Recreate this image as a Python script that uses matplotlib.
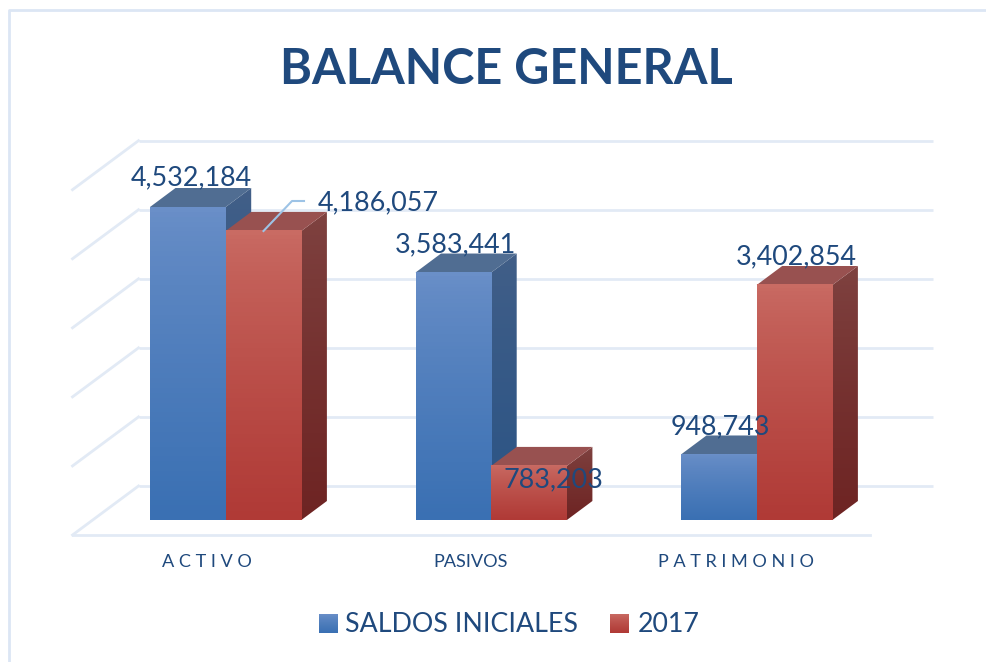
import matplotlib
matplotlib.use("Agg")
import matplotlib.pyplot as plt
import numpy as np
from matplotlib.patches import Polygon

plt.rcParams['font.family'] = ['Lato', 'DejaVu Sans']

categories = ["A C T I V O", "PASIVOS", "P A T R I M O N I O"]
saldos = [4532184, 3583441, 948743]
y2017 = [4186057, 783203, 3402854]
series_names = ["SALDOS INICIALES", "2017"]
saldos_labels = ["4,532,184", "3,583,441", "948,743"]
y2017_labels = ["4,186,057", "783,203", "3,402,854"]
grid_values = [0, 1000000, 2000000, 3000000, 4000000, 5000000]

W, H = 987, 662
TEXT = "#1f497d"
GRID = "#e2eaf5"

# y axis: 1,000,000 = 69.06 px, bars stand on pixel row 520
PX = 69.06 / 1e6
fig = plt.figure(figsize=(W / 100, H / 100), dpi=100)
ax = fig.add_axes([0, 0, 1, 1])
ax.set_xlim(0, W)
ax.set_ylim((520 - H) / PX, 520 / PX)
ax.axis("off")

bar_w = 75.7
dx, dy = 25.5, 19 / PX
lefts = [150, 415.5, 681]
blue = dict(front=("#6a8fc8", "#3a70b3"), side=("#425f88", "#2b5485"), top="#506d92")
red = dict(front=("#c96b63", "#b03a36"), side=("#7f4341", "#6e2423"), top="#985150")


def grad(c1, c2):
    a = np.array(matplotlib.colors.to_rgb(c1))
    b = np.array(matplotlib.colors.to_rgb(c2))
    # the reference reaches its dark end early, so bend the ramp a little
    t = (np.linspace(0, 1, 64) ** 0.8)[:, None, None]
    return a * (1 - t) + b * t


def bar3d(x, v, st, z):
    side = Polygon([(x + bar_w, 0), (x + bar_w + dx, dy), (x + bar_w + dx, v + dy), (x + bar_w, v)], closed=True, transform=ax.transData, fc="none", ec="none")
    ax.add_patch(side)
    im = ax.imshow(grad(*st["side"]), extent=(x + bar_w, x + bar_w + dx, 0, v + dy), aspect="auto", zorder=z, origin="upper")
    im.set_clip_path(side)
    ax.add_patch(Polygon([(x, v), (x + dx, v + dy), (x + bar_w + dx, v + dy), (x + bar_w, v)], closed=True, fc=st["top"], ec="none", zorder=z))
    ax.imshow(grad(*st["front"]), extent=(x, x + bar_w, 0, v), aspect="auto", zorder=z + 0.1, origin="upper")


# back wall and floor
wall_l, wall_r = 138.5, 933
gdx, gdy = 66, 49 / PX
floor = 34 / PX  # back wall zero sits 34 px above the bar base
for g in grid_values:
    y = g + floor
    ax.plot([wall_l, wall_r], [y, y], color=GRID, lw=2, zorder=1, solid_capstyle="butt")
    ax.plot([wall_l, wall_l - gdx], [y, y - gdy], color=GRID, lw=2, zorder=1)
ax.plot([wall_l - gdx, 870], [floor - gdy, floor - gdy], color=GRID, lw=2, zorder=1)

# outer frame, only its top and left edges fall inside the picture
ax.plot([W, 9, 9], [(520 - 10) / PX, (520 - 10) / PX, (520 - H) / PX], color="#dce6f4", lw=2, zorder=0)

for i, x in enumerate(lefts):
    bar3d(x, saldos[i], blue, 3 + i * 2)
    bar3d(x + bar_w, y2017[i], red, 4 + i * 2)

# leader line
ax.plot([263.5, 292, 304], [(520 - 231) / PX, (520 - 201) / PX, (520 - 201) / PX], color="#9dc3e6", lw=1.5, zorder=12)

fs_lab = 19.4
lab_pos_a = [(191, 178), (455, 245), (720, 427)]
lab_pos_b = [(378, 203), (553, 480), (796, 257)]
for (px, py), s in zip(lab_pos_a, saldos_labels):
    ax.text(px, (520 - py) / PX, s, color=TEXT, fontsize=fs_lab, ha="center", va="center", zorder=20)
for (px, py), s in zip(lab_pos_b, y2017_labels):
    ax.text(px, (520 - py) / PX, s, color=TEXT, fontsize=fs_lab, ha="center", va="center", zorder=20)

for px, s in zip([207, 471, 736], categories):
    ax.text(px, (520 - 562) / PX, s, color=TEXT, fontsize=13.1, ha="center", va="center")

ax.text(506, (520 - 69) / PX, "BALANCE GENERAL", color=TEXT, fontsize=35, fontweight="bold", ha="center", va="center")

# legend
for px, tx, st, name in zip([319, 610], [345, 638], [blue, red], series_names):
    ax.imshow(grad(*st["front"]), extent=(px, px + 19, (520 - 633) / PX, (520 - 614) / PX), aspect="auto", zorder=5, origin="upper")
    ax.text(tx, (520 - 624) / PX, name, color=TEXT, fontsize=19.3, ha="left", va="center")

ax.set_xlim(0, W)
ax.set_ylim((520 - H) / PX, 520 / PX)
fig.savefig("out.png", dpi=100)
